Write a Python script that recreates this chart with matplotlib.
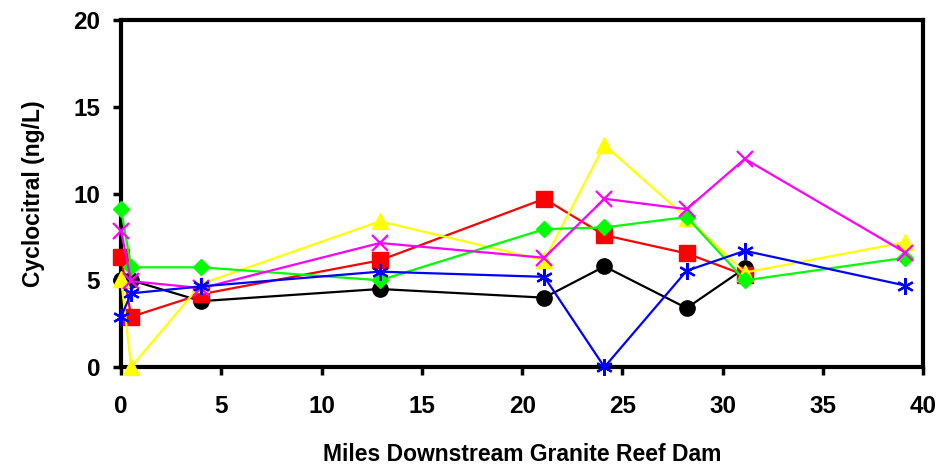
import matplotlib
matplotlib.use('Agg')
import matplotlib.pyplot as plt

plt.rcParams['font.family'] = ['Liberation Sans', 'DejaVu Sans']

# sampling sites, miles below the dam
miles = [0, 0.5, 4, 12.9, 21.1, 24.1, 28.2, 31.1, 39.1]

black_vals = [5.0, 5.0, 3.8, 4.5, 4.0, 5.8, 3.4, 5.7]
red_vals = [6.35, 2.9, 4.2, 6.15, 9.7, 7.6, 6.55, 5.3]
yellow_vals = [5.1, 0.0, 4.8, 8.4, 6.15, 12.8, 8.6, 5.45, 7.2]
green_vals = [9.1, 5.75, 5.75, 5.0, 7.95, 8.05, 8.65, 5.0, 6.3]
magenta_vals = [7.85, 4.95, 4.55, 7.15, 6.3, 9.7, 9.1, 12.0, 6.6]
blue_vals = [2.9, 4.25, 4.65, 5.5, 5.2, 0.0, 5.55, 6.7, 4.7]

fig = plt.figure(figsize=(9.46, 4.67), dpi=100)
ax = fig.add_axes([0.128, 0.214, 0.848, 0.743])

lw = 1.6
ax.plot(miles[:len(black_vals)], black_vals, color='black', lw=lw, marker='o', ms=11)
ax.plot(miles[:len(red_vals)], red_vals, color='#ff0000', lw=lw, marker='s', ms=11)
ax.plot(miles, yellow_vals, color='#ffff00', lw=lw, marker='^', ms=12)
ax.plot(miles, green_vals, color='#00ff00', lw=lw, marker='D', ms=8.5)
ax.plot(miles, magenta_vals, color='#ff00ff', lw=lw, marker='x', ms=11, mew=1.6)
ax.plot(miles, blue_vals, color='#0000ff', lw=lw, marker=(6, 2, 0), ms=12, mew=1.6)

ax.set_xlim(0, 40)
ax.set_ylim(0, 20)
ax.set_xticks(range(0, 41, 5))
ax.set_yticks(range(0, 21, 5))

for s in ax.spines.values():
    s.set_linewidth(3)
    s.set_color('black')
for line in ax.lines:
    line.set_clip_on(False)
    line.set_zorder(3)

ax.tick_params(direction='out', length=6, width=2.5, labelsize=17.5)
ax.tick_params(axis='x', pad=14)
ax.tick_params(axis='y', pad=9)
for lab in ax.get_xticklabels() + ax.get_yticklabels():
    lab.set_fontweight('bold')

ax.set_xlabel('Miles Downstream Granite Reef Dam', fontsize=16.5, fontweight='bold', labelpad=18)
ax.set_ylabel('Cyclocitral (ng/L)', fontsize=16.5, fontweight='bold', labelpad=20)

fig.savefig('out.png', dpi=100)
